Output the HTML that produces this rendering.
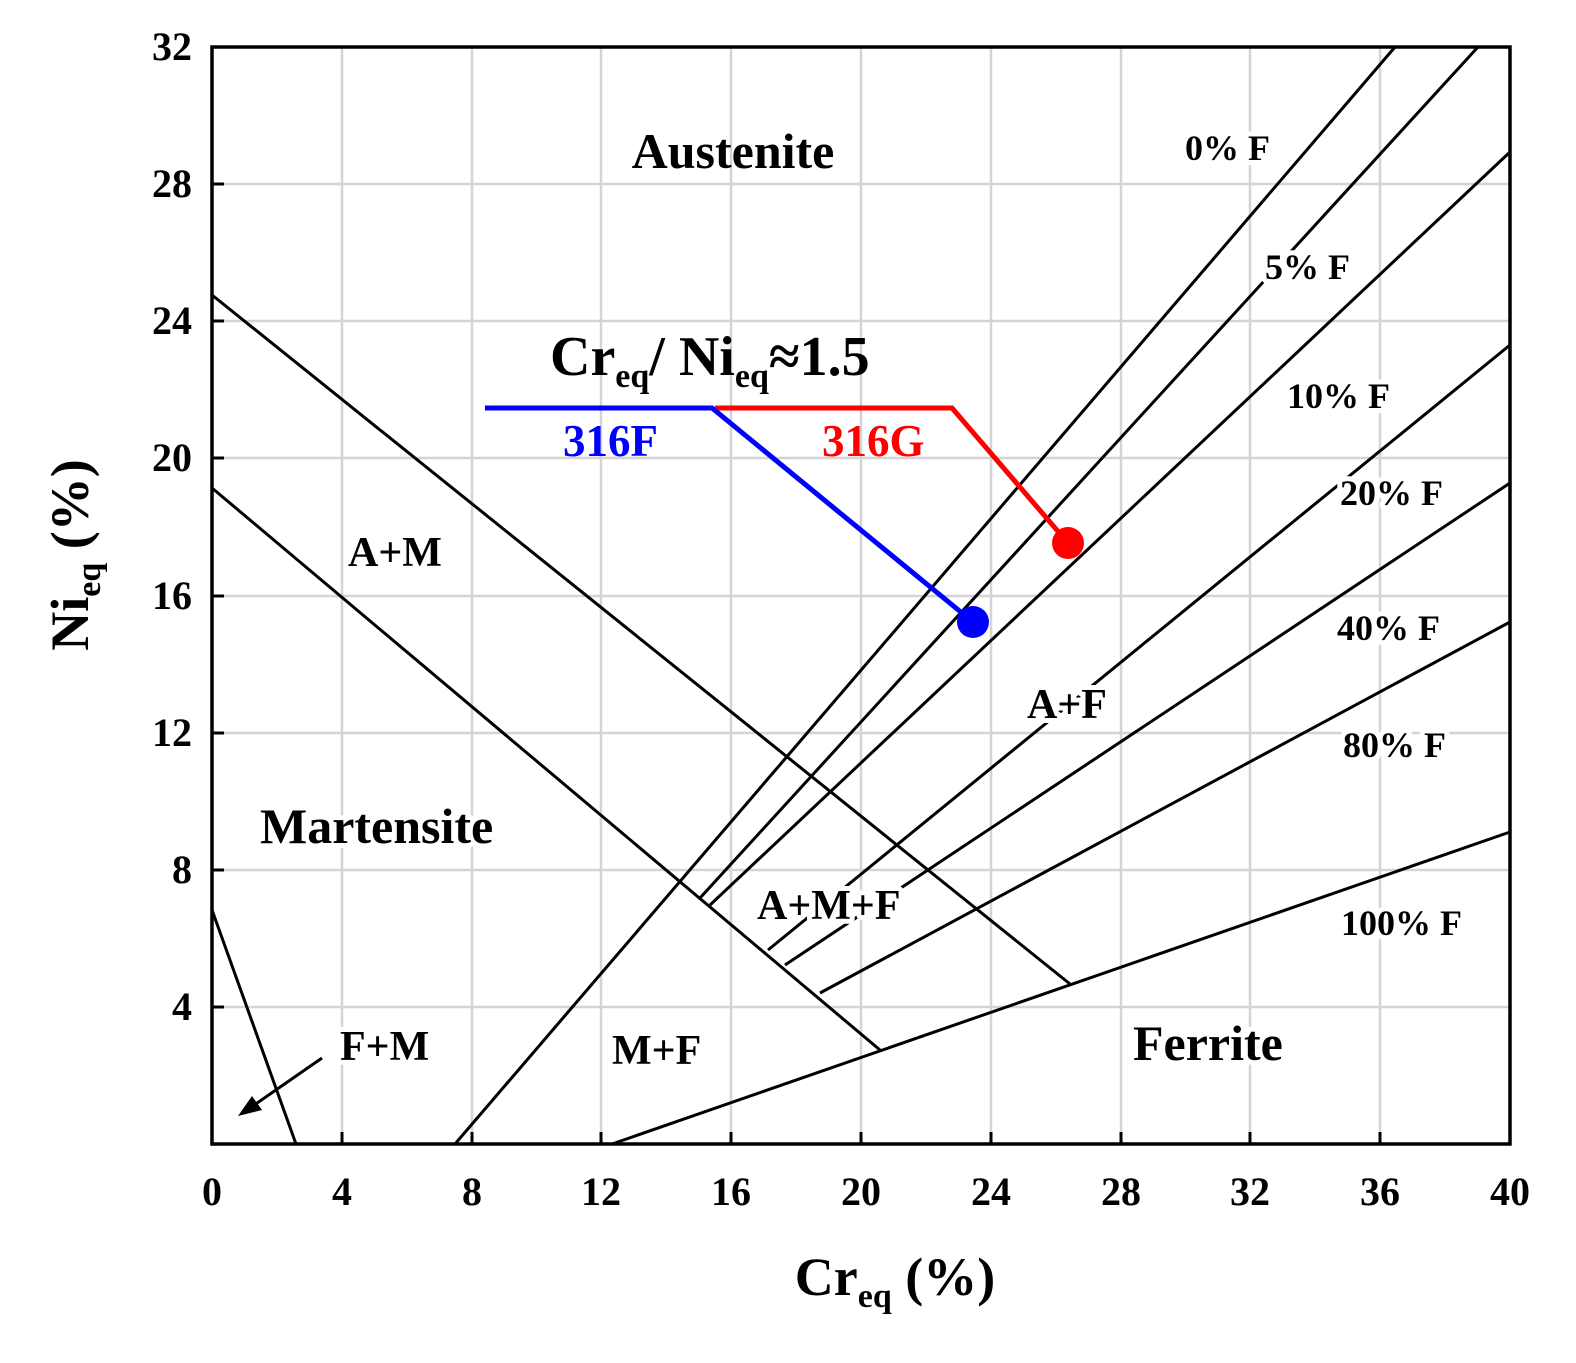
<!DOCTYPE html>
<html><head><style>
html,body{margin:0;padding:0;background:#fff;}
text{font-family:"Liberation Serif",serif;font-weight:bold;}
.bg{paint-order:stroke;stroke:#fff;stroke-width:10px;stroke-linejoin:round;}
</style></head><body>
<svg width="1576" height="1358" xmlns="http://www.w3.org/2000/svg">
<rect width="1576" height="1358" fill="#fff"/>
<g stroke="#d4d4d4" stroke-width="2.5">
<line x1="342" y1="47" x2="342" y2="1144"/><line x1="472" y1="47" x2="472" y2="1144"/>
<line x1="601" y1="47" x2="601" y2="1144"/><line x1="731" y1="47" x2="731" y2="1144"/>
<line x1="861" y1="47" x2="861" y2="1144"/><line x1="991" y1="47" x2="991" y2="1144"/>
<line x1="1121" y1="47" x2="1121" y2="1144"/><line x1="1250" y1="47" x2="1250" y2="1144"/>
<line x1="1380" y1="47" x2="1380" y2="1144"/>
<line x1="212" y1="1007" x2="1510" y2="1007"/><line x1="212" y1="870" x2="1510" y2="870"/>
<line x1="212" y1="733" x2="1510" y2="733"/><line x1="212" y1="596" x2="1510" y2="596"/>
<line x1="212" y1="458" x2="1510" y2="458"/><line x1="212" y1="321" x2="1510" y2="321"/>
<line x1="212" y1="184" x2="1510" y2="184"/>
</g>
<g stroke="#000" stroke-width="3" fill="none">
<line x1="212" y1="295" x2="1070" y2="984"/>
<line x1="212" y1="488" x2="880" y2="1050"/>
<line x1="212" y1="910" x2="296" y2="1144"/>
<line x1="455" y1="1144" x2="1395" y2="47"/>
<line x1="700" y1="898" x2="1478" y2="47"/>
<line x1="710" y1="905" x2="1510" y2="152"/>
<line x1="768" y1="950" x2="1510" y2="345"/>
<line x1="785" y1="965" x2="1510" y2="483"/>
<line x1="820" y1="993" x2="1510" y2="622"/>
<line x1="612" y1="1144" x2="1510" y2="832"/>
<line x1="322" y1="1058" x2="250" y2="1108"/>
</g>
<polygon points="238,1116 252,1096 262,1110" fill="#000"/>
<g stroke="#000" stroke-width="3">
<line x1="342" y1="1144" x2="342" y2="1132"/><line x1="472" y1="1144" x2="472" y2="1132"/>
<line x1="601" y1="1144" x2="601" y2="1132"/><line x1="731" y1="1144" x2="731" y2="1132"/>
<line x1="861" y1="1144" x2="861" y2="1132"/><line x1="991" y1="1144" x2="991" y2="1132"/>
<line x1="1121" y1="1144" x2="1121" y2="1132"/><line x1="1250" y1="1144" x2="1250" y2="1132"/>
<line x1="1380" y1="1144" x2="1380" y2="1132"/>
<line x1="212" y1="1007" x2="224" y2="1007"/><line x1="212" y1="870" x2="224" y2="870"/>
<line x1="212" y1="733" x2="224" y2="733"/><line x1="212" y1="596" x2="224" y2="596"/>
<line x1="212" y1="458" x2="224" y2="458"/><line x1="212" y1="321" x2="224" y2="321"/>
<line x1="212" y1="184" x2="224" y2="184"/>
</g>
<rect x="212" y="47" width="1298" height="1097" fill="none" stroke="#000" stroke-width="3.5"/>
<polyline points="715,408 952,408 1068,543" fill="none" stroke="#f00" stroke-width="5"/>
<polyline points="485,408 712,408 973,622" fill="none" stroke="#00f" stroke-width="5"/>
<circle cx="1068" cy="543" r="16" fill="#f00"/>
<circle cx="973" cy="622" r="16" fill="#00f"/>
<g font-size="40" text-anchor="middle">
<text x="212" y="1205">0</text><text x="342" y="1205">4</text><text x="472" y="1205">8</text>
<text x="601" y="1205">12</text><text x="731" y="1205">16</text><text x="861" y="1205">20</text>
<text x="991" y="1205">24</text><text x="1121" y="1205">28</text><text x="1250" y="1205">32</text>
<text x="1380" y="1205">36</text><text x="1510" y="1205">40</text>
</g>
<g font-size="40" text-anchor="end">
<text x="192" y="1020">4</text><text x="192" y="883">8</text><text x="192" y="746">12</text>
<text x="192" y="609">16</text><text x="192" y="471">20</text><text x="192" y="334">24</text>
<text x="192" y="197">28</text><text x="192" y="60">32</text>
</g>
<text x="895" y="1295" font-size="54" text-anchor="middle">Cr<tspan font-size="34" dy="12">eq</tspan><tspan dy="-12"> (%)</tspan></text>
<text transform="translate(88,555) rotate(-90)" font-size="54" text-anchor="middle">Ni<tspan font-size="34" dy="12">eq</tspan><tspan dy="-12"> (%)</tspan></text>
<text x="733" y="168" font-size="50" text-anchor="middle">Austenite</text>
<text x="550" y="375" font-size="56">Cr<tspan font-size="34" dy="12">eq</tspan><tspan dy="-12">/ Ni</tspan><tspan font-size="34" dy="12">eq</tspan><tspan dy="-12">≈1.5</tspan></text>
<text x="563" y="456" font-size="45" fill="#00f">316F</text>
<text x="822" y="456" font-size="45" fill="#f00">316G</text>
<g font-size="42" class="bg">
<text x="348" y="566">A+M</text>
<text x="260" y="843" font-size="50">Martensite</text>
<text x="340" y="1060">F+M</text>
<text x="612" y="1064">M+F</text>
<text x="757" y="919">A+M+F</text>
<text x="1027" y="718">A+F</text>
<text x="1133" y="1060" font-size="50">Ferrite</text>
</g>
<g font-size="36" class="bg">
<text x="1185" y="160">0% F</text>
<text x="1265" y="279">5% F</text>
<text x="1287" y="408">10% F</text>
<text x="1340" y="505">20% F</text>
<text x="1337" y="640">40% F</text>
<text x="1343" y="757">80% F</text>
<text x="1341" y="935">100% F</text>
</g>
</svg>
</body></html>
